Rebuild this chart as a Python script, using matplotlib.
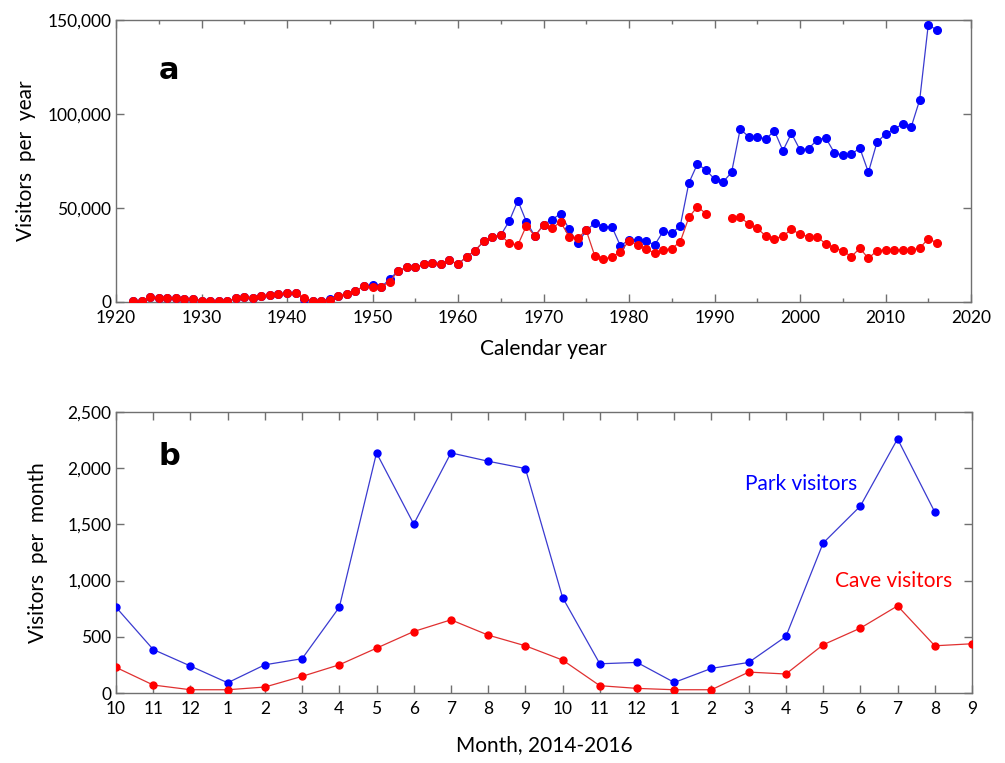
import numpy as np
import matplotlib
matplotlib.use("Agg")
import matplotlib.pyplot as plt
from matplotlib.ticker import FuncFormatter, MultipleLocator

plt.rcParams['font.family'] = ['Lato', 'DejaVu Sans']

# ---- Panel a: yearly data ----
years = list(range(1922, 2017))
cave_year = [300, 700, 2800, 2100, 2100, 2100, 1600, 1600, 700, 700,
             300, 300, 2100, 2800, 2100, 3400, 3700, 4100, 4800, 4600,
             2100, 700, 700, 1200, 3400, 4500, 6000, 8300, 8100, 7800,
             10800, 16500, 18500, 18500, 20000, 20600, 20000, 22200, 20000, 24100,
             27300, 32300, 34700, 35500, 31200, 30300, 40600, 35000, 41100, 39200,
             42600, 34700, 34000, 38100, 24500, 22700, 24100, 26600, 32500, 30300,
             28400, 25900, 27700, 28400, 32100, 45000, 50700, 47000, np.nan, np.nan,
             44900, 45400, 41300, 39200, 35100, 33700, 35000, 38700, 36000, 34800,
             34800, 30900, 28900, 27300, 24100, 28600, 23200, 27300, 27700, 27700,
             27700, 27700, 28600, 33700, 31500]
park_year = [300, 700, 2800, 2100, 2100, 2100, 1600, 1600, 700, 700,
             300, 300, 2100, 2800, 2100, 3000, 3700, 4100, 4800, 4600,
             1500, 700, 700, 1700, 3400, 4500, 6000, 8300, 9000, 7800,
             12200, 16500, 18500, 18500, 20000, 20600, 20000, 22200, 20000, 24100,
             27300, 32300, 34700, 35500, 43100, 53900, 42700, 35000, 41100, 43800,
             47000, 38700, 31200, 38100, 41900, 40100, 40000, 29800, 33200, 33200,
             32500, 30300, 37600, 36500, 40600, 63300, 73400, 70200, 65400, 63800,
             69000, 91900, 88000, 88000, 86600, 91100, 80500, 89700, 80900, 81600,
             86200, 87400, 79500, 78000, 78700, 81800, 69000, 84900, 89400, 91900,
             94700, 93000, 107500, 147400, 144700]

# ---- Panel b: monthly data ----
month_labels = ['10', '11', '12', '1', '2', '3', '4', '5', '6', '7', '8', '9',
                '10', '11', '12', '1', '2', '3', '4', '5', '6', '7', '8', '9']
park_month = [763, 387, 240, 91, 251, 305, 763, 2136, 1503, 2136, 2062, 1997,
              849, 260, 272, 94, 219, 272, 503, 1334, 1663, 2261, 1610, np.nan]
cave_month = [228, 71, 29, 29, 53, 148, 251, 399, 547, 651, 515, 420,
              293, 65, 41, 29, 29, 186, 169, 429, 577, 775, 420, 438]

BLUE = '#0000ff'
BLUE_LINE = '#3a3ad0'
RED = '#ff0000'
RED_LINE = '#e03030'
SPINE = '#707070'

W, H = 1005, 763
fig = plt.figure(figsize=(W / 100, H / 100), dpi=100)

def rect(l, t, r, b):
    return [l / W, 1 - b / H, (r - l) / W, (b - t) / H]

comma = FuncFormatter(lambda v, p: f"{int(v):,}")

def style(ax):
    for s in ax.spines.values():
        s.set_color(SPINE)
        s.set_linewidth(1.0)
    ax.tick_params(which='both', direction='in', top=True, right=True,
                   colors=SPINE, labelcolor='black', labelsize=12.5)
    ax.tick_params(which='major', length=6, width=1)
    ax.tick_params(which='minor', length=3, width=1)
    ax.tick_params(axis='x', pad=6)

# Panel a
ax1 = fig.add_axes(rect(116, 20, 971, 302))
ax1.plot(years, park_year, '-', color=BLUE_LINE, lw=0.9, zorder=2)
ax1.plot(years, park_year, 'o', color=BLUE, ms=5.5, zorder=3)
ax1.plot(years, cave_year, '-', color=RED_LINE, lw=0.9, zorder=4)
ax1.plot(years, cave_year, 'o', color=RED, ms=5.5, zorder=5)
ax1.set_xlim(1920, 2020)
ax1.set_ylim(0, 150000)
ax1.xaxis.set_major_locator(MultipleLocator(10))
ax1.xaxis.set_minor_locator(MultipleLocator(5))
ax1.yaxis.set_major_locator(MultipleLocator(50000))
ax1.yaxis.set_major_formatter(comma)
style(ax1)
ax1.set_xlabel('Calendar year', fontsize=15)
ax1.xaxis.set_label_coords(0.5, -(349 - 302) / 282)
ax1.xaxis.label.set_va('center')
ax1.set_ylabel('Visitors  per  year', fontsize=15)
ax1.yaxis.set_label_coords((26 - 116) / 855, 0.5)
ax1.yaxis.label.set_va('center')
ax1.text(0.05, 0.82, 'a', transform=ax1.transAxes, fontsize=22,
         fontweight='bold', family='DejaVu Sans', ha='left', va='center')
ax1.text(818, 103000, 'Park visitors', color=BLUE, fontsize=15, ha='center', va='center')
ax1.text(818, 49500, 'Cave visitors', color=RED, fontsize=15, ha='center', va='center')

# Panel b
ax2 = fig.add_axes(rect(116, 412, 972, 693))
xm = np.arange(len(month_labels))
ax2.plot(xm, park_month, '-', color=BLUE_LINE, lw=0.9, zorder=2)
ax2.plot(xm, park_month, 'o', color=BLUE, ms=5, zorder=3)
ax2.plot(xm, cave_month, '-', color=RED_LINE, lw=0.9, zorder=4)
ax2.plot(xm, cave_month, 'o', color=RED, ms=5, zorder=5)
ax2.set_xlim(0, len(month_labels) - 1)
ax2.set_ylim(0, 2500)
ax2.set_xticks(xm)
ax2.set_xticklabels(month_labels)
ax2.yaxis.set_major_locator(MultipleLocator(500))
ax2.yaxis.set_major_formatter(comma)
style(ax2)
ax2.set_xlabel('Month, 2014-2016', fontsize=15)
ax2.xaxis.set_label_coords(0.5, -(745 - 693) / 281)
ax2.xaxis.label.set_va('center')
ax2.set_ylabel('Visitors  per  month', fontsize=15)
ax2.yaxis.set_label_coords((38 - 116) / 856, 0.5)
ax2.yaxis.label.set_va('center')
ax2.text(0.05, 0.84, 'b', transform=ax2.transAxes, fontsize=22,
         fontweight='bold', family='DejaVu Sans', ha='left', va='center')
ax2.text(18.4, 1860, 'Park visitors', color=BLUE, fontsize=15, ha='center', va='center')
ax2.text(20.9, 1000, 'Cave visitors', color=RED, fontsize=15, ha='center', va='center')

fig.savefig('out.png', dpi=100)
